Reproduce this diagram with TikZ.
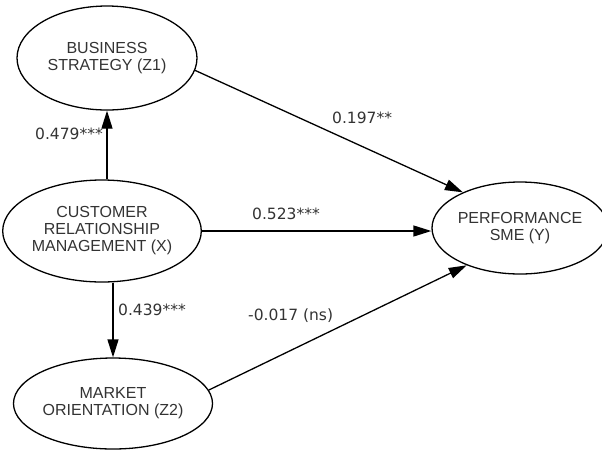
\documentclass[tikz,border=0pt]{standalone}
\usepackage{fontspec}
\setmainfont{Liberation Sans}
\newfontfamily\labfont{DejaVu Sans}
\usetikzlibrary{shapes.geometric,arrows.meta}
\begin{document}
\begin{tikzpicture}[x=1pt,y=-1pt,
  lv/.style={ellipse,draw=black,line width=1.3pt,inner sep=0pt,align=center,
     text=black!80,font=\fontsize{16}{17}\selectfont},
  arr/.style={line width=1.3pt,-{Triangle[length=18pt,width=11pt]}},
  lab/.style={text=black!80,font=\labfont\fontsize{15.5}{17}\selectfont,inner sep=0pt}]
\useasboundingbox (0,0) rectangle (602,451);
\node[lv,minimum width=180pt,minimum height=104pt] (bs) at (107,58) {BUSINESS\\STRATEGY (Z1)};
\node[lv,minimum width=178pt,minimum height=102pt] (crm) at (102,231) {CUSTOMER\\RELATIONSHIP\\MANAGEMENT (X)};
\node[lv,minimum width=180pt,minimum height=91pt] (mo) at (113,403.5) {MARKET\\ORIENTATION (Z2)};
\node[lv,minimum width=149pt,minimum height=92pt] (perf) at (520,228) {PERFORMANCE\\SME (Y)};
\draw[arr] (bs.south |- crm.north) -- (bs.south);
\draw[arr] (crm.south -| mo.north) -- (mo.north);
\draw[arr] (bs.-8) -- (perf.148);
\draw[arr] (crm.east) -- (crm.east -| perf.west);
\draw[arr] (mo.8) -- (perf.215);
\node[lab,anchor=east] (l1) at (103,134) {0.479***};
\node[lab,anchor=west] (l2) at (118,310) {0.439***};
\node[lab,anchor=west] (l3) at (332,118) {0.197**};
\node[lab,anchor=west] (l4) at (252,214) {0.523***};
\node[lab,anchor=west] (l5) at (248,316) {-0.017 (ns)};
\end{tikzpicture}
\end{document}
